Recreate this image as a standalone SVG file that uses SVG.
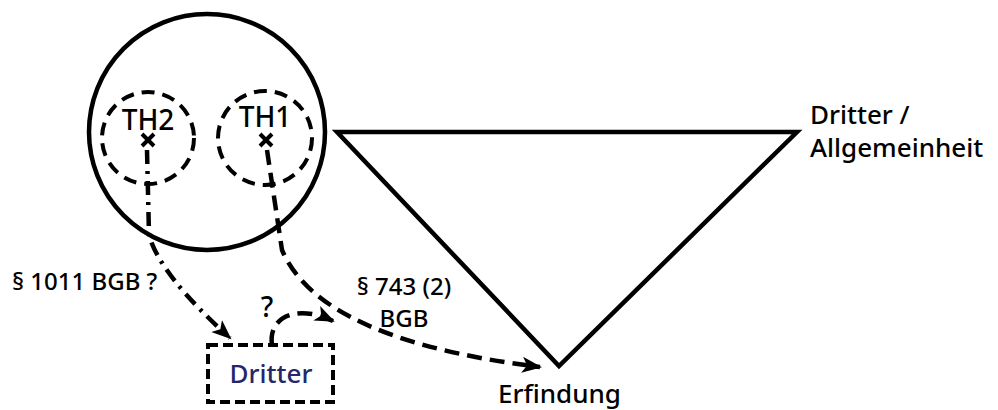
<svg xmlns="http://www.w3.org/2000/svg" width="998" height="410" viewBox="0 0 998 410">
<style>
.t{font-family:"Noto Sans","Open Sans","Liberation Sans",sans-serif;fill:#000;font-weight:500}
.solid{fill:none;stroke:#000;stroke-width:4.5}
.dc{fill:none;stroke:#000;stroke-width:4;stroke-dasharray:13 8}
.dash{fill:none;stroke:#000;stroke-width:4.5;stroke-dasharray:15 8}
.dashdot{fill:none;stroke:#000;stroke-width:4.5;stroke-dasharray:14 7 3 7}
</style>
<defs>
<marker id="ah" markerUnits="userSpaceOnUse" markerWidth="22" markerHeight="18" refX="18" refY="8" orient="auto" viewBox="0 0 22 16">
<path d="M0,0 L20,8 L0,16 L5,8 z" fill="#000"/>
</marker>
</defs>
<rect width="998" height="410" fill="#fff"/>
<g id="holders">
<circle cx="207" cy="132" r="118" class="solid"/>
</g>
<g id="th2">
<circle cx="148" cy="138" r="46" class="dc"/>
<text class="t" x="148" y="130" font-size="28" text-anchor="middle">TH2</text>
<path d="M142,134 L154,146 M154,134 L142,146" stroke="#000" stroke-width="4"/>
</g>
<g id="th1">
<circle cx="265" cy="138" r="47" class="dc"/>
<text class="t" x="265" y="127" font-size="28" text-anchor="middle">TH1</text>
<path d="M260,134 L272,146 M272,134 L260,146" stroke="#000" stroke-width="4"/>
</g>
<g id="triangle">
<path d="M337,132 L797,132 L559,366 Z" class="solid" stroke-linejoin="miter"/>
<text class="t" x="810" y="124" font-size="26">Dritter /</text>
<text class="t" x="810" y="157" font-size="26">Allgemeinheit</text>
<text class="t" x="498" y="403" font-size="26">Erfindung</text>
</g>
<g id="dritter">
<rect x="208" y="345" width="125" height="57" fill="none" stroke="#000" stroke-width="4" stroke-dasharray="10 5"/>
<text class="t" x="271" y="383" font-size="26" text-anchor="middle" style="fill:#25276a">Dritter</text>
</g>
<g id="connectors">
<path d="M147,150 L149,235 Q160,275 230,338" class="dashdot" marker-end="url(#ah)"/>
<path d="M267,150 L282,250 Q320,340 540,367" class="dash" marker-end="url(#ah)"/>
<path d="M272,345 C268,318 295,303 333,321" class="dash" stroke-dasharray="10 6" marker-end="url(#ah)"/>
</g>
<g id="labels">
<text class="t" x="12" y="290" font-size="24">§ 1011 BGB ?</text>
<text class="t" x="404" y="295" font-size="24" text-anchor="middle">§ 743 (2)</text>
<text class="t" x="404" y="327" font-size="24" text-anchor="middle">BGB</text>
<text class="t" x="267" y="317" font-size="28" text-anchor="middle">?</text>
</g>
</svg>
